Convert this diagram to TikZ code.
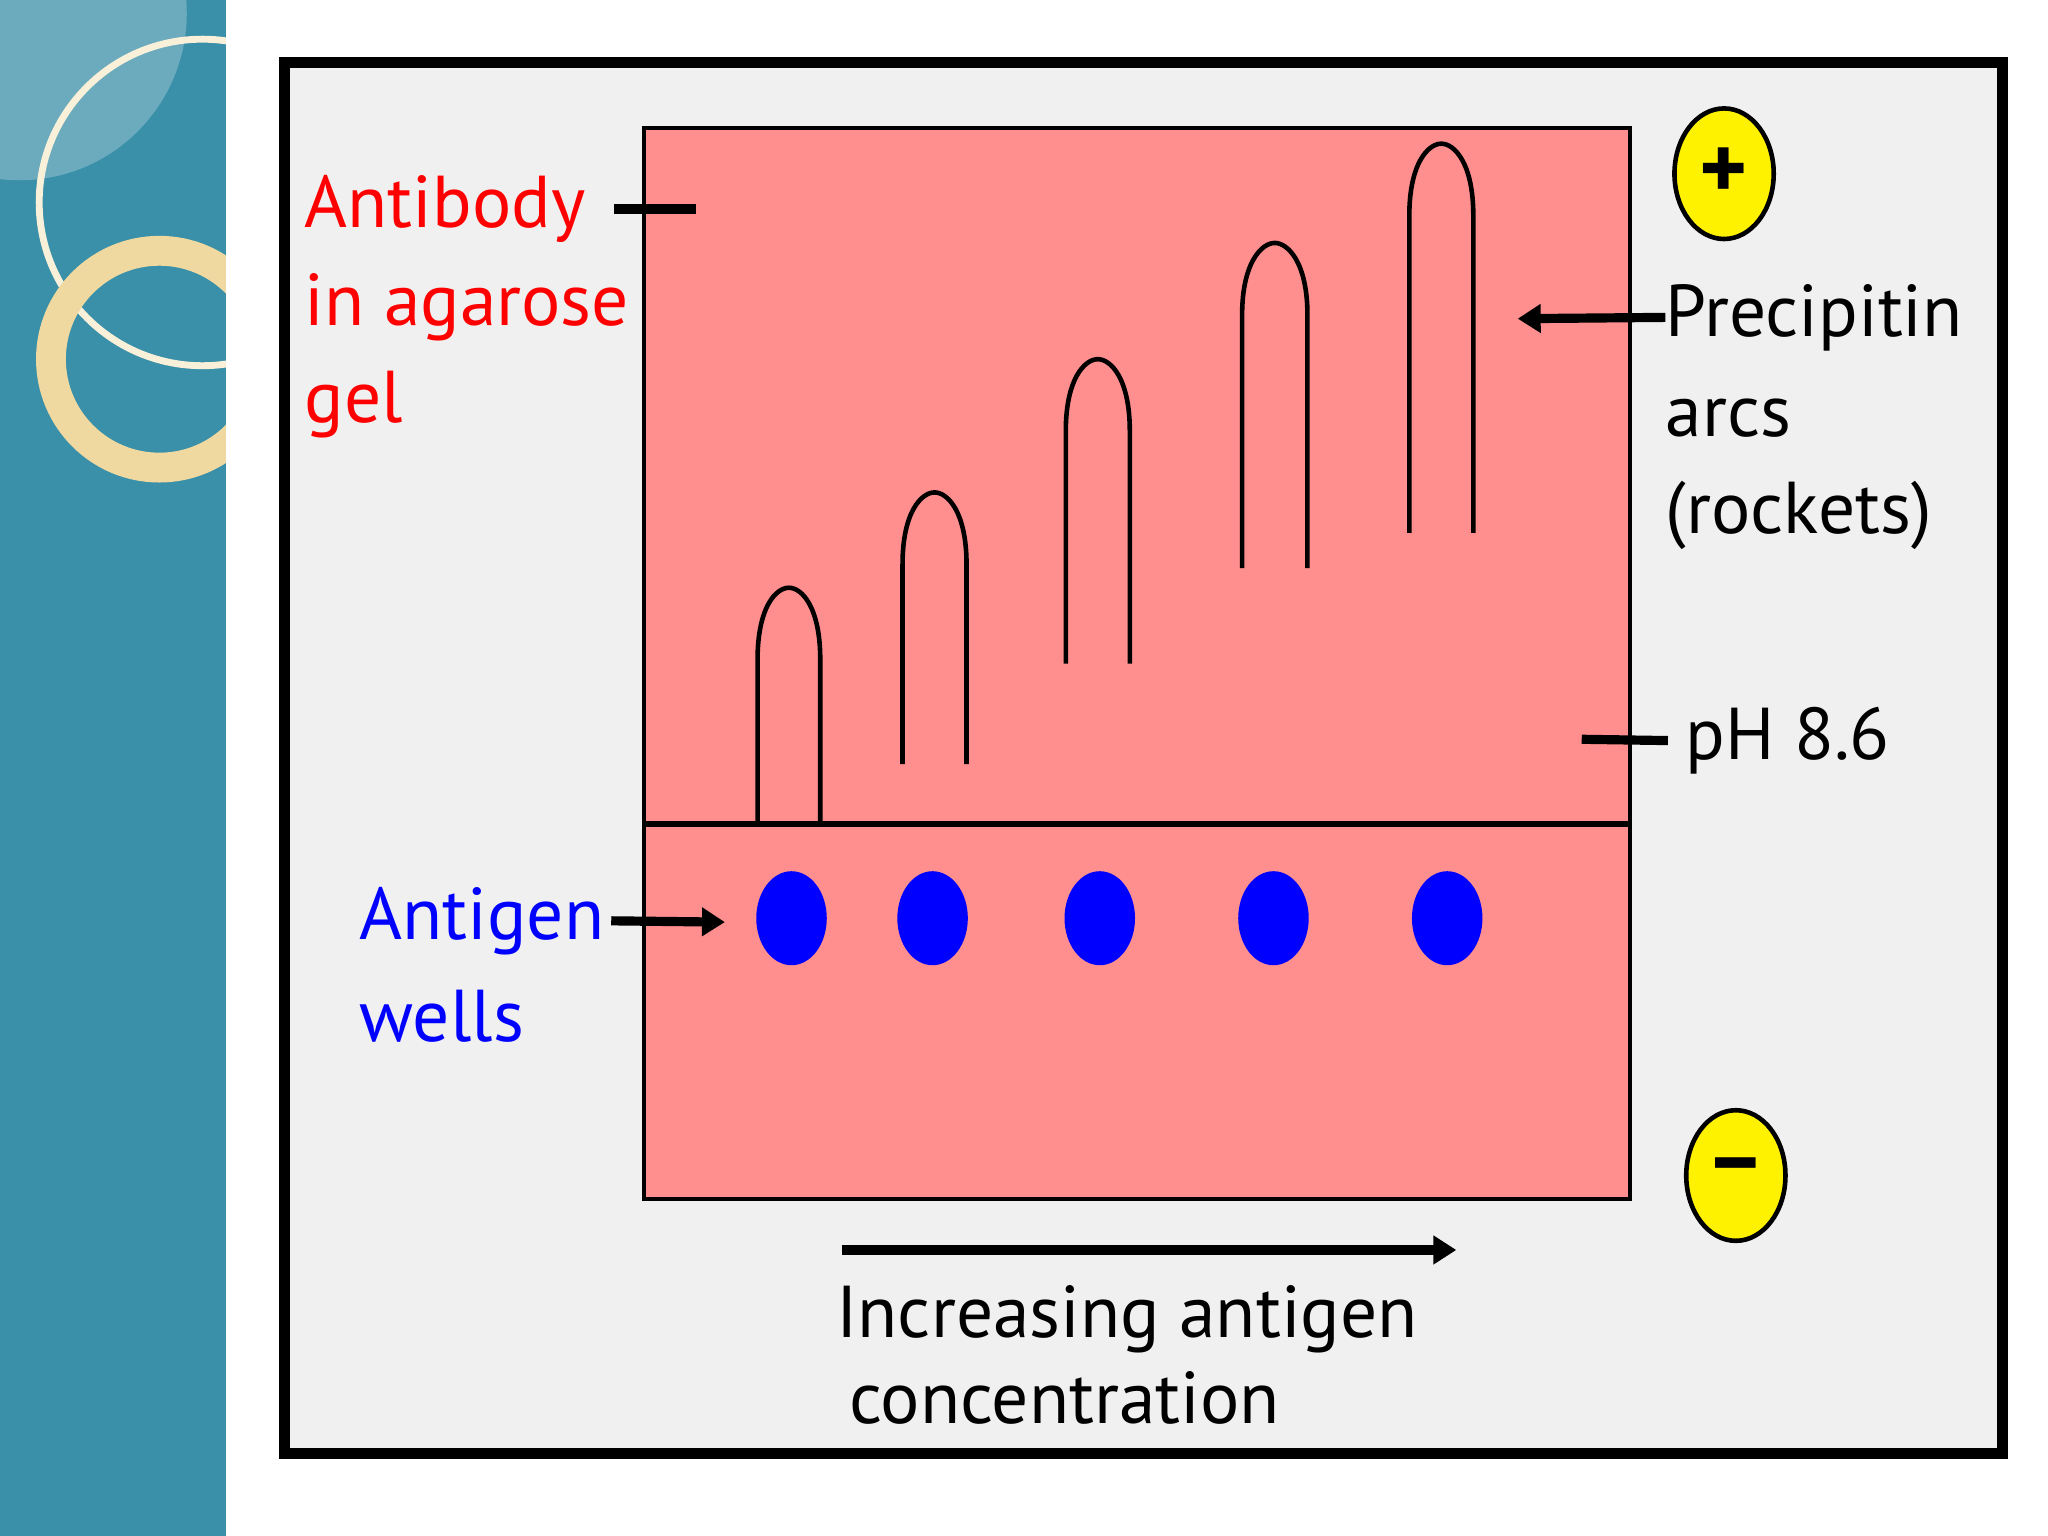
\documentclass[tikz,border=0pt]{standalone}
\usepackage{fontspec}
\setmainfont{PT Sans}
\usetikzlibrary{arrows.meta,shapes.geometric}
\definecolor{teal}{HTML}{3A90A8}
\definecolor{gelpink}{HTML}{FF8F8F}
\definecolor{panel}{HTML}{F0F0F0}
\definecolor{ringgold}{HTML}{F0D9A0}
\begin{document}
\begin{tikzpicture}[x=0.02cm,y=-0.02cm,>={Triangle[length=10pt,width=12pt]}]
 \tikzstyle{lbl} = [anchor=west,inner sep=0,font=\fontsize{32}{32}\selectfont]
 \tikzstyle{tick} = [line width=4pt]
 \tikzstyle{well} = [fill=blue,ellipse,minimum width=1.08cm,minimum height=1.44cm]
 \tikzstyle{pole} = [draw=black,line width=2pt,fill=yellow,ellipse,minimum width=1.52cm,minimum height=2cm,inner sep=0,font=\fontsize{40}{40}\selectfont\bfseries]
 \newcommand{\rocket}[4]{\draw[line width=2pt] (#1,#4) -- (#1,{#3+55}) .. controls (#1,{#3+15}) and ({(#1+#2)/2-10},#3) .. ({(#1+#2)/2},#3) .. controls ({(#1+#2)/2+10},#3) and (#2,{#3+15}) .. (#2,{#3+55}) -- (#2,#4);}

 \useasboundingbox (0,0) rectangle (1568,1176);
 \fill[white] (0,0) rectangle (1568,1176);

 % side band
 \begin{scope}
  \clip (0,0) rectangle (173,1176);
  \fill[teal] (0,0) rectangle (173,1176);
  \fill[white,opacity=0.25] (15,10) circle (128);
  \draw[ringgold!40!white,line width=3pt] (155,155) circle (125);
  \draw[ringgold,line width=13pt] (122,275) circle (83);
 \end{scope}

 % panel and gel
 \draw[line width=5pt,fill=panel] (218,48) rectangle (1533,1113);
 \draw[line width=2pt,fill=gelpink] (493,98) rectangle (1248,918);
 \draw[line width=2.5pt] (493,631) -- (1248,631);

 % rockets
 \rocket{580}{628}{450}{630}
 \rocket{691}{740}{377}{585}
 \rocket{816}{865}{275}{508}
 \rocket{951}{1001}{186}{435}
 \rocket{1079}{1128}{110}{408}

 % wells
 \foreach \x [count=\i] in {606,714,842,975,1108}
  \node[well] (w\i) at (\x,703) {};

 % labels
 \node[lbl,red] (ab1) at (233,160) {Antibody};
 \node[lbl,red] (ab2) at (233,235) {in agarose};
 \node[lbl,red] (ab3) at (233,310) {gel};
 \coordinate (abt) at (533,160);
 \draw[tick] (ab1.east) ++(22,0) -- (abt);

 \node[lbl,blue] (ag1) at (275,705) {Antigen};
 \node[lbl,blue] (ag2) at (275,778) {wells};
 \coordinate (agt) at (555,706);
 \draw[tick,->] (ag1.east) ++(5,0) -- (agt);

 \node[lbl] (pa1) at (1275,243) {Precipitin};
 \node[lbl] (pa2) at (1275,320) {arcs};
 \node[lbl] (pa3) at (1275,395) {(rockets)};
 \coordinate (pat) at (1162,244);
 \draw[tick,->] (pa1.west) -- (pat);

 \node[lbl] (ph) at (1290,567) {pH 8.6};
 \coordinate (pht) at (1211,566);
 \draw[tick] (ph.west) ++(-13,0) -- (pht);

 \node[pole] (plus) at (1320,133) {+};
 \node[pole] (minus) at (1329,900) {\raisebox{2pt}{--}};

 \coordinate (inc0) at (645,957);
 \coordinate (inc1) at (1115,957);
 \draw[tick,->] (inc0) -- (inc1);
 \node[lbl] (inc) at (640,1010) {Increasing antigen};
 \node[lbl] (conc) at (650,1070) {concentration};
\end{tikzpicture}
\end{document}
